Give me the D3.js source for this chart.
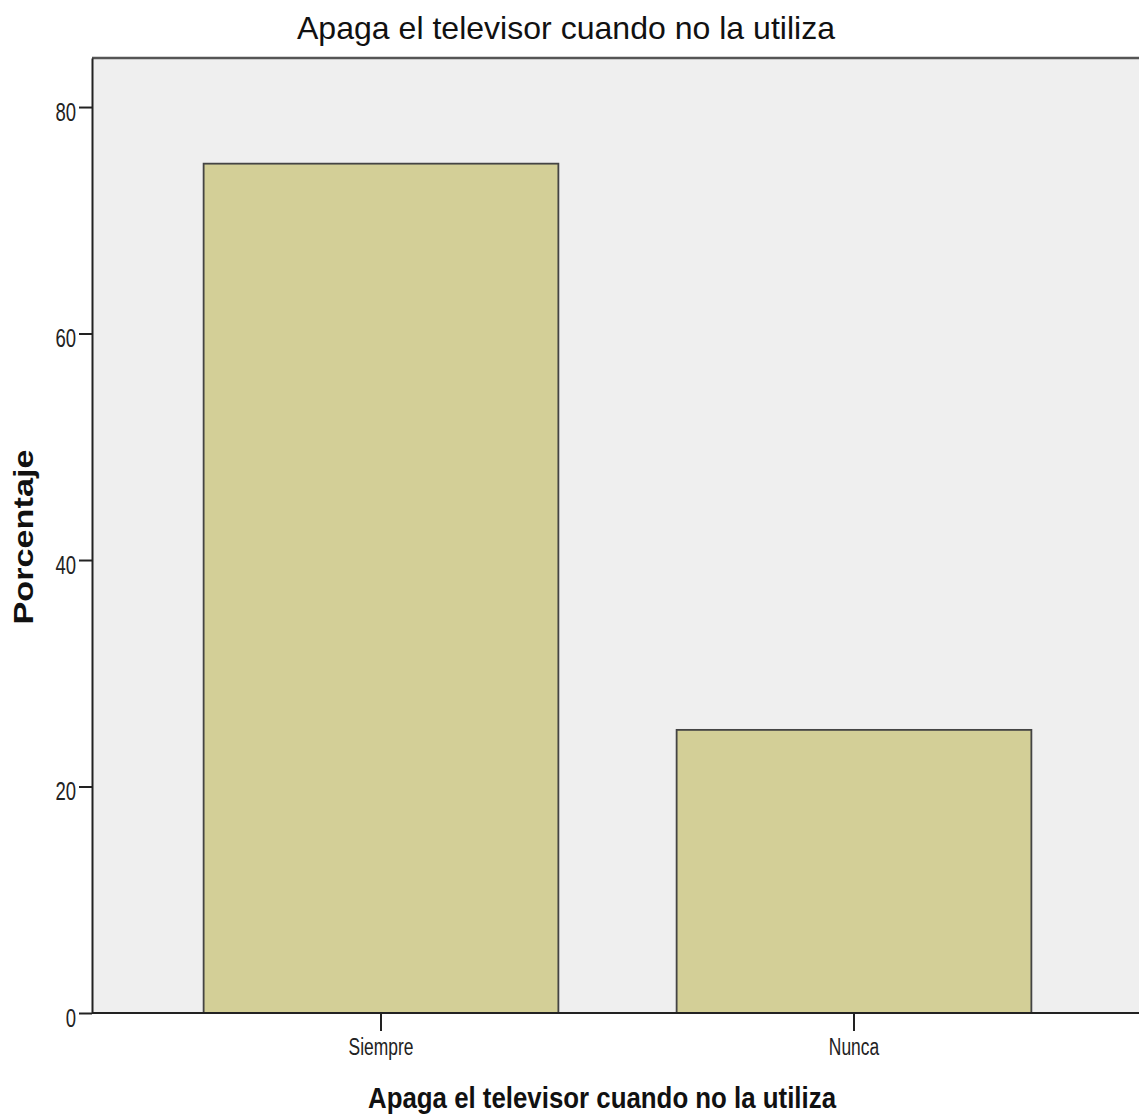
<!DOCTYPE html>
<html>
<head>
<meta charset="utf-8">
<script src="https://cdn.jsdelivr.net/npm/d3@7"></script>
<style>
  body { margin: 0; background: #fff; }
  svg { display: block; font-family: "Liberation Sans", Arial, sans-serif; }
</style>
</head>
<body>
<svg id="my-svg" width="1139" height="1120"></svg>
<script>
const categories = ['Siempre', 'Nunca'];
const percentages = [75, 25];
const yTicks = [0, 20, 40, 60, 80];
const chartTitle = 'Apaga el televisor cuando no la utiliza';
const xTitle = 'Apaga el televisor cuando no la utiliza';
const yTitle = 'Porcentaje';

const svg = d3.select('svg');

const plot = {left: 92, right: 1139, top: 58, bottom: 1013};

const xScale = d3.scaleBand()
                 .domain(categories)
                 .range([144.5, 1090.5])
                 .paddingInner(0.25)
                 .paddingOuter(0.125);

const yScale = d3.scaleLinear()
                 .domain([0, 84.33])
                 .range([plot.bottom, plot.top]);

// squeeze text horizontally to look like the narrow font of the original
const narrow = (sel, factor) => {
    sel.each(function() {
        const w = this.getComputedTextLength();
        d3.select(this)
          .attr('textLength', w * factor)
          .attr('lengthAdjust', 'spacingAndGlyphs');
    });
};

// plot background
svg.append('rect')
   .attr('x', plot.left)
   .attr('y', plot.top)
   .attr('width', plot.right - plot.left)
   .attr('height', plot.bottom - plot.top)
   .attr('fill', '#efefef');

// top border
svg.append('line')
   .attr('x1', plot.left).attr('x2', plot.right)
   .attr('y1', plot.top).attr('y2', plot.top)
   .attr('stroke', '#555').attr('stroke-width', 2.5);

// bars
svg.selectAll('rect.bar').data(categories)
   .enter()
   .append('rect')
   .attr('class', 'bar')
   .attr('x', (d) => xScale(d))
   .attr('y', (d, i) => yScale(percentages[i]))
   .attr('width', xScale.bandwidth())
   .attr('height', (d, i) => yScale(0) - yScale(percentages[i]))
   .attr('fill', '#d3cf97')
   .attr('stroke', '#444')
   .attr('stroke-width', 1.8);

const yAxis = d3.axisLeft(yScale).tickValues(yTicks).tickSize(13).tickPadding(3).tickSizeOuter(0);
const xAxis = d3.axisBottom(xScale).tickSize(18).tickSizeOuter(0);

const yAxisGroup = svg.append('g')
   .attr('transform', `translate(${plot.left}, 0)`)
   .call(yAxis);

const xAxisGroup = svg.append('g')
   .attr('transform', `translate(0, ${plot.bottom})`)
   .call(xAxis);

xAxisGroup.select('.domain').attr('d', `M${plot.left},0H${plot.right}`);

[yAxisGroup, xAxisGroup].forEach((g) => {
    g.select('.domain').attr('stroke', '#222').attr('stroke-width', 2);
    g.selectAll('.tick line').attr('stroke', '#222').attr('stroke-width', 2);
    g.selectAll('.tick text')
     .attr('fill', '#222')
     .attr('font-family', '"Liberation Sans", Arial, sans-serif');
});

yAxisGroup.selectAll('.tick text')
    .attr('font-size', 25)
    .attr('dy', 13)
    .call(narrow, 0.74);

xAxisGroup.selectAll('.tick text')
    .attr('font-size', 23.5)
    .attr('y', 42)
    .attr('dy', 0)
    .call(narrow, 0.74);

svg.append('text')
   .attr('x', 566)
   .attr('y', 39)
   .attr('text-anchor', 'middle')
   .attr('font-size', 32)
   .attr('fill', '#111')
   .attr('textLength', 538)
   .attr('lengthAdjust', 'spacingAndGlyphs')
   .text(chartTitle);

svg.append('text')
   .attr('x', 602)
   .attr('y', 1108)
   .attr('text-anchor', 'middle')
   .attr('font-size', 29)
   .attr('font-weight', 'bold')
   .attr('fill', '#111')
   .attr('textLength', 468)
   .attr('lengthAdjust', 'spacingAndGlyphs')
   .text(xTitle);

svg.append('text')
   .attr('transform', 'translate(33, 537) rotate(-90)')
   .attr('text-anchor', 'middle')
   .attr('font-size', 28)
   .attr('font-weight', 'bold')
   .attr('fill', '#111')
   .attr('textLength', 175)
   .attr('lengthAdjust', 'spacingAndGlyphs')
   .text(yTitle);
</script>
</body>
</html>
